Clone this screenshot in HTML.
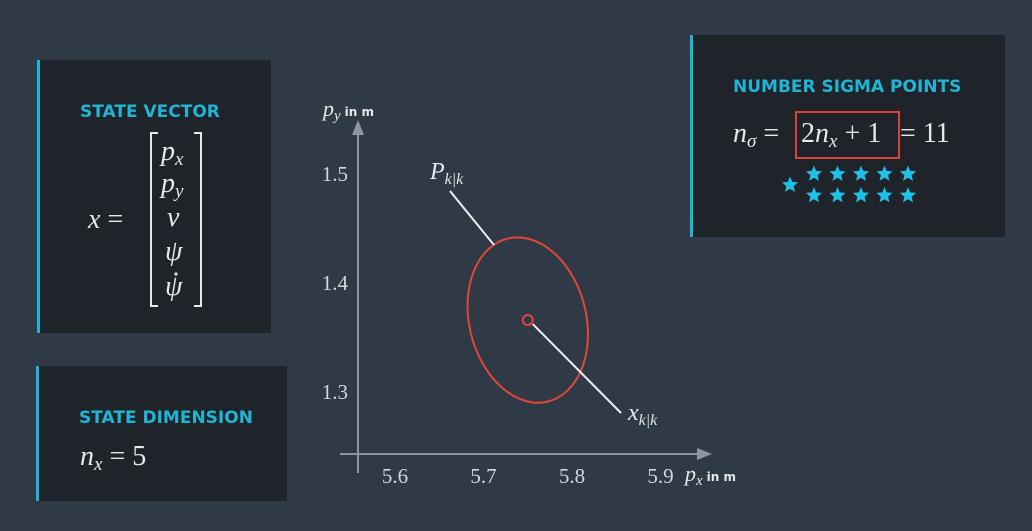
<!DOCTYPE html>
<html><head><meta charset="utf-8"><style>
html,body{margin:0;padding:0;background:#2f3a46;}
svg{display:block}
.m{font-family:"Liberation Serif",serif;font-style:italic;fill:#e6e8ea}
.n{font-family:"Liberation Serif",serif;fill:#e6e8ea}
.h{font-family:"DejaVu Sans","Liberation Sans",sans-serif;font-weight:bold;fill:#1fb5d4}
.t{font-family:"Liberation Serif",serif;fill:#d3d7db;font-size:21px}
</style></head><body>
<svg width="1032" height="531" viewBox="0 0 1032 531">
<rect width="1032" height="531" fill="#2f3a46"/>
<g>
<rect x="38" y="60" width="233" height="273" fill="#1f232a"/>
<rect x="37" y="60" width="3" height="273" fill="#1fb5d4"/>
<text class="h" x="80" y="117" font-size="17">STATE VECTOR</text>
<text class="m" x="88" y="228" font-size="28">x <tspan font-style="normal">=</tspan></text>
<path d="M158,133 h-7 v173 h7 M194,133 h7 v173 h-7" stroke="#e6e8ea" stroke-width="2" fill="none"/>
<text class="m" x="161" y="160" font-size="28">p<tspan font-size="19" dy="5">x</tspan></text>
<text class="m" x="161" y="192" font-size="28">p<tspan font-size="19" dy="5">y</tspan></text>
<text class="m" x="167" y="226" font-size="28">v</text>
<text class="m" x="165" y="260" font-size="28">ψ</text>
<text class="m" x="165" y="295" font-size="28">ψ</text>
<circle cx="176" cy="274" r="1.6" fill="#e6e8ea"/>
</g>
<g>
<rect x="37" y="366" width="250" height="135" fill="#1f232a"/>
<rect x="36" y="366" width="3" height="135" fill="#1fb5d4"/>
<text class="h" x="79" y="423" font-size="17">STATE DIMENSION</text>
<text class="m" x="80" y="465" font-size="28">n<tspan font-size="19" dy="5">x</tspan><tspan dy="-5" font-style="normal"> = 5</tspan></text>
</g>
<g>
<rect x="690" y="35" width="315" height="202" fill="#1f232a"/>
<rect x="690" y="35" width="3" height="202" fill="#1fb5d4"/>
<text class="h" x="733" y="92" font-size="17">NUMBER SIGMA POINTS</text>
<text class="m" x="733" y="142" font-size="28">n<tspan font-size="19" dy="5">σ</tspan><tspan dy="-5" font-style="normal"> =</tspan></text>
<rect x="796" y="112" width="103" height="46" fill="none" stroke="#d9443a" stroke-width="2"/>
<text class="n" x="801" y="142" font-size="28">2<tspan font-style="italic">n</tspan><tspan font-style="italic" font-size="19" dy="5">x</tspan><tspan dy="-5"> + 1</tspan></text>
<text class="n" x="900" y="142" font-size="28">= 11</text>
<g id="stars" fill="#1fc0e6"></g>
</g>
<g id="chart">
<line x1="358" y1="473" x2="358" y2="130" stroke="#8d969f" stroke-width="2"/>
<path d="M352,135 L358,120 L364,135 Z" fill="#8d969f"/>
<line x1="340" y1="454" x2="700" y2="454" stroke="#8d969f" stroke-width="2"/>
<path d="M697,448 L712,454 L697,460 Z" fill="#8d969f"/>
<text class="m" x="323" y="116" font-size="22">p<tspan font-size="15" dy="4">y</tspan><tspan dy="-4" font-style="normal" font-family="DejaVu Sans" font-weight="bold" font-size="12" dx="4">in m</tspan></text>
<text class="m" x="685" y="481" font-size="22">p<tspan font-size="15" dy="4">x</tspan><tspan dy="-4" font-style="normal" font-family="DejaVu Sans" font-weight="bold" font-size="12" dx="4">in m</tspan></text>
<g id="ticks"></g>
<g id="marks"></g>
</g>
</svg>
<script>
const xTicks=[5.6,5.7,5.8,5.9];
const yTicks=[1.3,1.4,1.5];
const meanX=[5.75];
const meanY=[1.366];
const sdX=[0.066];
const sdY=[0.077];
const tiltDeg=[-14];
const X=v=>395+(v-5.6)*885;
const Y=v=>283-(v-1.4)*1090;
const NS="http://www.w3.org/2000/svg";
function mk(tag,attrs,parent){const e=document.createElementNS(NS,tag);for(const k in attrs)e.setAttribute(k,attrs[k]);parent.appendChild(e);return e;}
const ticks=document.getElementById('ticks');
xTicks.forEach(v=>{const t=mk('text',{x:X(v),y:483,'text-anchor':'middle',class:'t'},ticks);t.textContent=v.toFixed(1);

});
yTicks.forEach(v=>{const t=mk('text',{x:348,y:Y(v)+7,'text-anchor':'end',class:'t'},ticks);t.textContent=v.toFixed(1);

});
const marks=document.getElementById('marks');
const cx=X(meanX[0]),cy=Y(meanY[0]);
const el=mk('ellipse',{cx:cx,cy:cy,rx:sdX[0]*885,ry:sdY[0]*1090,transform:`rotate(${tiltDeg[0]} ${cx} ${cy})`,fill:'none',stroke:'#e0463c','stroke-width':2},marks);


const c=mk('circle',{cx:cx,cy:cy,r:5,fill:'none',stroke:'#e0463c','stroke-width':2},marks);


mk('line',{x1:cx+5,y1:cy+4,x2:621,y2:413,stroke:'#eef0f2','stroke-width':2},marks);
mk('line',{x1:450,y1:191,x2:494,y2:245,stroke:'#eef0f2','stroke-width':2},marks);
const p=mk('text',{x:430,y:179,class:'m','font-size':24},marks);
p.innerHTML='P<tspan font-size="16" dy="5">k|k</tspan>';


const xl=mk('text',{x:628,y:420,class:'m','font-size':24},marks);
xl.innerHTML='x<tspan font-size="16" dy="5">k|k</tspan>';


const stars=document.getElementById('stars');
function star(x,y,r){let d='';for(let i=0;i<10;i++){const a=-Math.PI/2+i*Math.PI/5;const rr=i%2?r*0.45:r;d+=(i?'L':'M')+(x+rr*Math.cos(a)).toFixed(1)+','+(y+rr*Math.sin(a)).toFixed(1);}
const s=mk('path',{d:d+'Z'},stars);

}
star(790,185,8.5);
for(let r=0;r<2;r++)for(let i=0;i<5;i++)star(814+i*23.5,174+r*21.5,8.5);
</script>
</body></html>
